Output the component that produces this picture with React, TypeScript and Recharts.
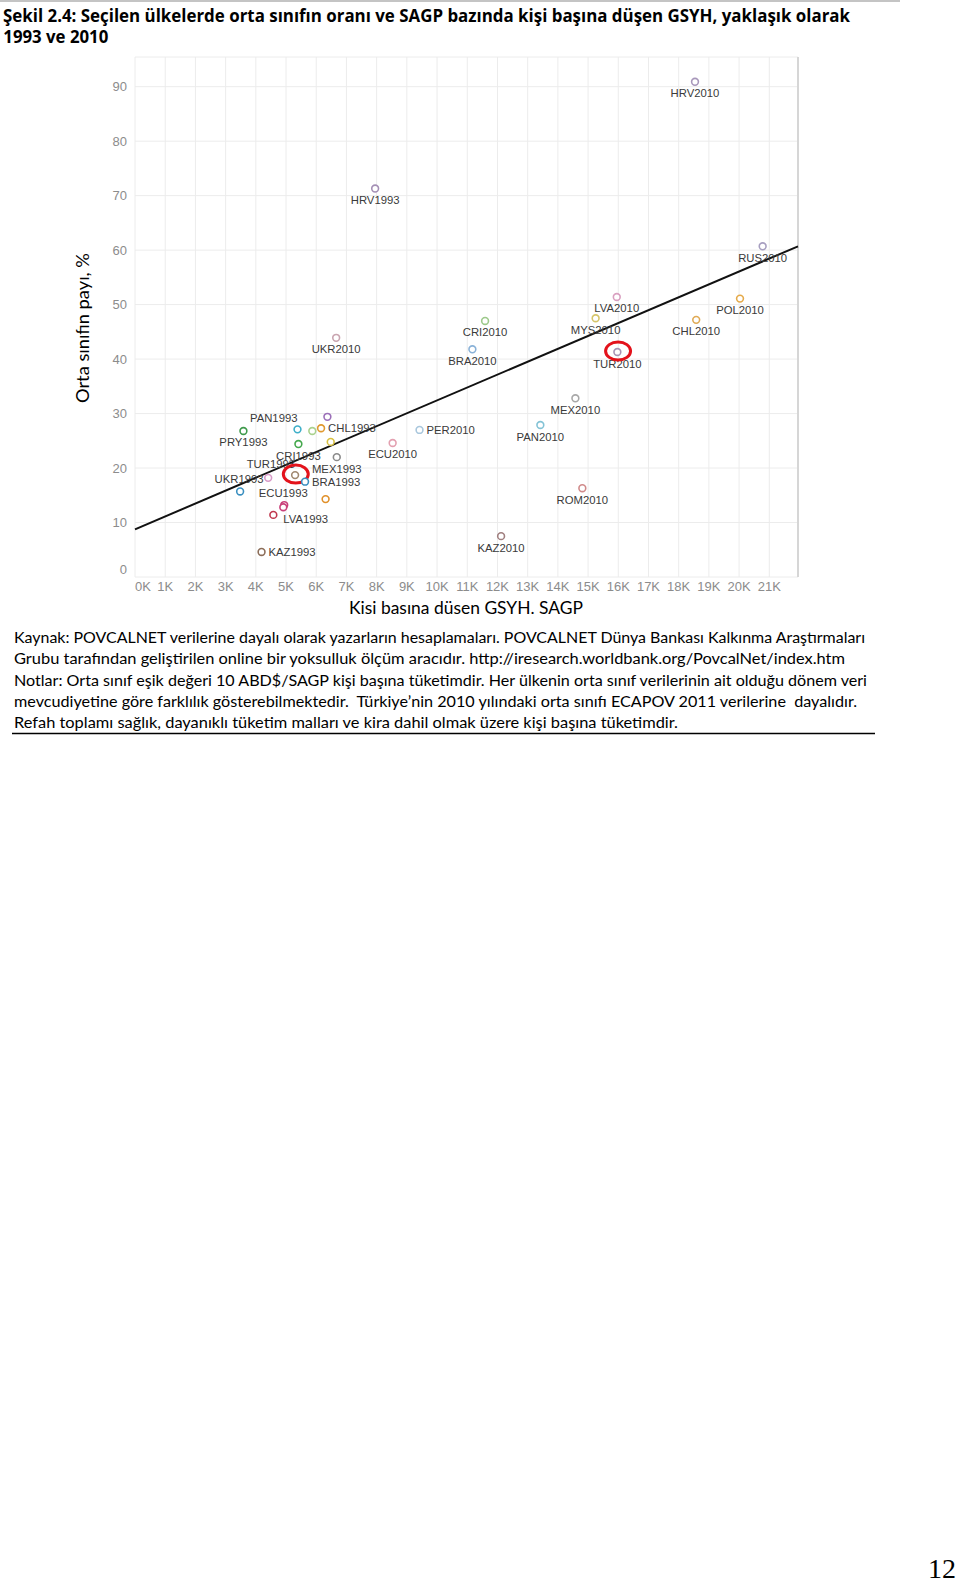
import { CartesianGrid, ReferenceLine, Scatter, ScatterChart, XAxis, YAxis } from 'recharts';

// Country-year labels ('' = point without a label in the source figure)
const pointNames = [
  'HRV1993', 'PAN1993', 'PRY1993', 'CHL1993', 'CRI1993', 'TUR1993', 'MEX1993', 'BRA1993', 'UKR1993',
  'ECU1993', 'LVA1993', 'KAZ1993', '', '', '', '', '', '',
  'HRV2010', 'RUS2010', 'LVA2010', 'POL2010', 'MYS2010', 'CHL2010', 'CRI2010', 'UKR2010', 'BRA2010',
  'TUR2010', 'MEX2010', 'PAN2010', 'PER2010', 'ECU2010', 'ROM2010', 'KAZ2010',
];
// GDP per capita, PPP (thousands)
const gdpK = [
  7.95, 5.38, 3.59, 6.16, 5.41, 5.3, 6.68, 5.63, 3.48,
  4.94, 4.58, 4.19, 6.37, 5.87, 6.48, 4.41, 6.31, 4.91,
  18.54, 20.78, 15.95, 20.03, 15.25, 18.58, 11.59, 6.66, 11.17,
  15.97, 14.58, 13.42, 9.42, 8.53, 14.81, 12.12,
];
// middle class share, %
const middleShare = [
  71.3, 27.1, 26.8, 27.3, 24.4, 18.7, 22.0, 17.5, 15.7,
  13.2, 11.4, 4.6, 29.4, 26.8, 24.8, 18.2, 14.3, 12.8,
  90.9, 60.7, 51.4, 51.1, 47.5, 47.2, 47.0, 43.9, 41.8,
  41.3, 32.8, 27.9, 27.0, 24.6, 16.3, 7.5,
];
const trendGdpK = [0, 21.95];
const trendShare = [8.75, 60.7];
const xTicks = [0, 1, 2, 3, 4, 5, 6, 7, 8, 9, 10, 11, 12, 13, 14, 15, 16, 17, 18, 19, 20, 21];
const yTicks = [0, 10, 20, 30, 40, 50, 60, 70, 80, 90];

const markerColors = [
  '#a48fb5', '#3fb0c9', '#3f9a4c', '#e0992f', '#45a84d', '#a08870', '#8a8a8a', '#3a8fc0', '#3a8fc0',
  '#c9417a', '#c0394f', '#8c6e5a', '#9b6fb8', '#a9d18e', '#d8c040', '#d89ac8', '#e0902a', '#c9417a',
  '#a898bb', '#a79fc0', '#d9a0c0', '#e5aa4a', '#d6c56a', '#e0aa55', '#9cc98a', '#c9a5b0', '#8ab2d8',
  '#a795b5', '#a8a8a8', '#84c3d6', '#a9c7dd', '#e3a0b0', '#d08a8a', '#a07f7f',
];

const labelSide: Record<string, string> = {
  PAN1993: 'upLeft', TUR1993: 'upLeft', CHL1993: 'right', BRA1993: 'right', LVA1993: 'right',
  KAZ1993: 'right', PER2010: 'right', UKR1993: 'above', ECU1993: 'above',
};
const circled = ['TUR1993', 'TUR2010'];

const points = pointNames.map((name, i) => ({ name, gdp: gdpK[i], share: middleShare[i], color: markerColors[i] }));

const labelFont = '"Liberation Sans", Arial, sans-serif';

function Marker(props: any) {
  const { cx, cy, payload } = props;
  const side = labelSide[payload.name] || 'below';
  let lx = cx, ly = cy + 15.5, anchor: 'start' | 'middle' | 'end' = 'middle';
  if (side === 'right') { lx = cx + 7; ly = cy + 4; anchor = 'start'; }
  if (side === 'above') { lx = cx - 1; ly = cy - 8; }
  if (side === 'upLeft') { lx = cx; ly = cy - 7; anchor = 'end'; }
  if (payload.name === 'LVA1993') { lx = cx + 10; ly = cy + 8; }
  return (
    <g>
      <circle cx={cx} cy={cy} r={3.4} fill="#fff" stroke={payload.color} strokeWidth={1.6} />
      {payload.name && (
        <text x={lx} y={ly} textAnchor={anchor} fontSize={11.3} fontFamily={labelFont} fill="#3a3a3a">
          {payload.name}
        </text>
      )}
      {circled.includes(payload.name) && (
        <ellipse cx={cx + 0.7} cy={cy - 1} rx={12.5} ry={9} fill="none" stroke="#e3121b" strokeWidth={3} />
      )}
    </g>
  );
}

function XTick(props: any) {
  const { x, y, payload } = props;
  return (
    <text x={payload.value === 0 ? x + 8 : x} y={y} dy="0.71em" textAnchor="middle" fontSize={13} fontFamily={labelFont} fill="#8c8c8c">
      {`${payload.value}K`}
    </text>
  );
}

function YTick(props: any) {
  const { x, y, payload } = props;
  return (
    <text x={x} y={payload.value === 0 ? y - 8 : y} dy="0.35em" textAnchor="end" fontSize={13} fontFamily={labelFont} fill="#8c8c8c">
      {payload.value}
    </text>
  );
}

const noteFont = 'Lato, "Open Sans", sans-serif';
const noteLines = [
  { text: 'Kaynak: POVCALNET verilerine dayalı olarak yazarların hesaplamaları. POVCALNET Dünya Bankası Kalkınma Araştırmaları', end: 865 },
  { text: 'Grubu tarafından geliştirilen online bir yoksulluk ölçüm aracıdır. http://iresearch.worldbank.org/PovcalNet/index.htm', end: 845 },
  { text: 'Notlar: Orta sınıf eşik değeri 10 ABD$/SAGP kişi başına tüketimdir. Her ülkenin orta sınıf verilerinin ait olduğu dönem veri', end: 867 },
  { text: 'mevcudiyetine göre farklılık gösterebilmektedir.  Türkiye’nin 2010 yılındaki orta sınıfı ECAPOV 2011 verilerine  dayalıdır.', end: 857 },
  { text: 'Refah toplamı sağlık, dayanıklı tüketim malları ve kira dahil olmak üzere kişi başına tüketimdir.', end: 678 },
];

export default function App() {
  return (
    <div style={{ position: 'absolute', left: 0, top: 0, width: 960, height: 1582, background: '#fff', overflow: 'hidden' }}>
      <div style={{ position: 'absolute', left: 0, top: 0 }}>
        <ScatterChart width={960} height={640} margin={{ top: 57, right: 162, bottom: 33, left: 100 }}>
          <CartesianGrid stroke="#ececec" />
          <XAxis
            type="number"
            dataKey="gdp"
            domain={[0, 21.95]}
            ticks={xTicks}
            allowDataOverflow
            height={30}
            axisLine={false}
            tickLine={false}
            tickSize={3}
            tickMargin={2}
            tick={<XTick />}
          />
          <YAxis
            type="number"
            dataKey="share"
            domain={[0, 95.45]}
            ticks={yTicks}
            allowDataOverflow
            width={35}
            axisLine={false}
            tickLine={false}
            tick={<YTick />}
          />
          <ReferenceLine x={21.95} stroke="#d6d6d6" strokeWidth={2} />
          <Scatter data={points} shape={<Marker />} isAnimationActive={false} />
          <ReferenceLine
            segment={[
              { x: trendGdpK[0], y: trendShare[0] },
              { x: trendGdpK[1], y: trendShare[1] },
            ]}
            stroke="#111"
            strokeWidth={2}
          />
        </ScatterChart>
      </div>
      <svg width={960} height={1582} style={{ position: 'absolute', left: 0, top: 0, pointerEvents: 'none' }}>
        <line x1={0} y1={1} x2={900} y2={1} stroke="#8a8a8a" strokeWidth={1.2} />
        <text x={3} y={21.7} fontFamily='"Open Sans", sans-serif' fontWeight={700} fontSize={18} textLength={847} lengthAdjust="spacingAndGlyphs" fill="#000">
          Şekil 2.4: Seçilen ülkelerde orta sınıfın oranı ve SAGP bazında kişi başına düşen GSYH, yaklaşık olarak
        </text>
        <text x={3.3} y={43.3} fontFamily='"Open Sans", sans-serif' fontWeight={700} fontSize={18} textLength={105} lengthAdjust="spacingAndGlyphs" fill="#000">
          1993 ve 2010
        </text>
        <text
          transform="translate(88.5,328) rotate(-90)"
          textAnchor="middle"
          fontFamily={noteFont}
          fontSize={17}
          textLength={150}
          lengthAdjust="spacingAndGlyphs"
          fill="#000"
        >
          Orta sınıfın payı, %
        </text>
        <text x={349} y={614} fontFamily={noteFont} fontSize={17} textLength={234} lengthAdjust="spacingAndGlyphs" fill="#000">
          Kisi basına düsen GSYH. SAGP
        </text>
        {noteLines.map((l, i) => (
          <text
            key={i}
            x={14}
            y={643 + i * 21.3}
            fontFamily={noteFont}
            fontSize={16}
            textLength={l.end - 14}
            lengthAdjust="spacingAndGlyphs"
            fill="#000"
            style={{ whiteSpace: 'pre' }}
          >
            {l.text}
          </text>
        ))}
        <line x1={12} y1={733.5} x2={875} y2={733.5} stroke="#000" strokeWidth={1.5} />
        <text x={928} y={1578} fontFamily='"Liberation Serif", serif' fontSize={28} fill="#000">
          12
        </text>
      </svg>
    </div>
  );
}
